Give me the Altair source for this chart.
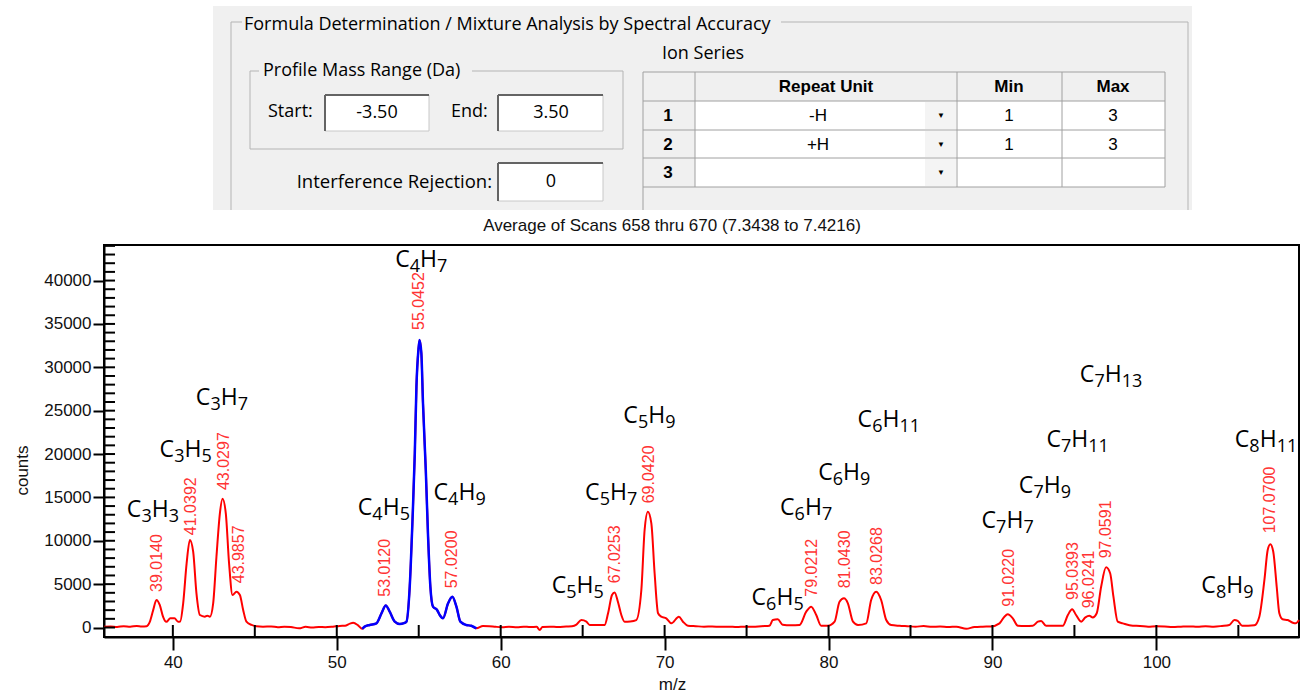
import altair as alt
import pandas as pd

# ---------------- layout of the figure (pixels) ----------------
W, H = 1195, 392          # plot area
PL, PT, PR, PB = 104, 245, 2, 55

# ---------------- spectrum (m/z, counts) ----------------
mz = [35.8, 36.2, 36.6, 37.0, 37.4, 37.8, 38.1, 38.4, 38.6, 38.8, 39.0, 39.2, 39.4, 39.6, 39.85,
      40.1, 40.32, 40.45, 40.63, 40.84, 41.04, 41.24, 41.44, 41.65, 41.95, 42.1, 42.26, 42.46,
      42.66, 42.87, 43.03, 43.23, 43.43, 43.64, 43.88, 44.09, 44.29, 44.49, 44.8, 45.1, 45.5,
      46.0, 46.4, 46.8, 47.2, 47.7, 48.1, 48.5, 48.9, 49.3, 49.77, 50.18, 50.5, 50.8, 51.0, 51.3,
      51.55, 51.7, 52.01, 52.42, 52.73, 52.99, 53.23, 53.54, 53.84, 54.1, 54.25, 54.45, 54.62,
      54.76, 54.86, 54.98, 55.05, 55.16, 55.26, 55.43, 55.57, 55.71, 55.87, 56.12, 56.28, 56.48,
      56.79, 57.05, 57.3, 57.54, 57.9, 58.2, 58.52, 58.92, 59.3, 59.7, 60.1, 60.5, 61.0, 61.4,
      61.8, 62.2, 62.38, 62.55, 63.0, 63.5, 64.0, 64.35, 64.62, 64.92, 65.23, 65.43, 66.0, 66.34,
      66.55, 66.79, 66.95, 67.15, 67.36, 67.56, 67.9, 68.27, 68.58, 68.78, 68.98, 69.19, 69.39,
      69.6, 69.8, 70.1, 70.41, 70.87, 71.12, 71.42, 71.9, 72.4, 72.9, 73.4, 73.9, 74.4, 74.9,
      75.4, 75.9, 76.4, 76.6, 76.9, 77.2, 77.7, 78.23, 78.64, 78.94, 79.25, 79.55, 79.96, 80.37,
      80.67, 80.94, 81.18, 81.49, 81.8, 82.3, 82.6, 82.91, 83.21, 83.52, 83.82, 84.33, 84.8,
      85.3, 85.8, 86.3, 86.8, 87.3, 87.8, 88.4, 88.9, 89.4, 89.9, 90.43, 90.73, 90.93, 91.24,
      91.55, 92.0, 92.46, 92.77, 92.97, 93.27, 93.8, 94.29, 94.6, 94.86, 95.1, 95.41, 95.67,
      95.91, 96.12, 96.36, 96.63, 96.93, 97.18, 97.38, 97.64, 97.95, 98.56, 99.0, 99.5, 100.0,
      100.5, 101.0, 101.5, 102.0, 102.5, 103.0, 103.5, 104.0, 104.45, 104.76, 104.96, 105.23,
      105.6, 105.98, 106.28, 106.59, 106.79, 106.95, 107.13, 107.34, 107.5, 107.7, 108.01,
      108.32, 108.5, 108.7]
counts = [80, 120, 60, 150, 90, 180, 120, 150, 670, 2000, 3170, 2600, 1250, 650, 1060,
          1060, 670, 700, 2790, 7400, 10100, 8740, 3940, 1440, 1250, 1350, 1250, 2790,
          8160, 13170, 14850, 13170, 7400, 3750, 4130, 3750, 2020, 670, 300, 150, 100,
          120, 40, 100, 60, -100, 80, 0, 60, 40, 100, 180, 200, 450, 550, 250,
          -150, 100, 290, 480, 1640, 2550, 1820, 670, 400, 500, 670, 4700, 12400,
          20080, 27770, 32000, 33150, 31620, 25850, 18160, 10470, 4700, 2400, 2020, 1440, 1060,
          2790, 3550, 2400, 670, 290, 200, -100, 170, 150, 80, 40, 80, 40, 100,
          50, 80, -300, 60, 100, 60, 120, 150, 330, 860, 670, 290, 280, 290,
          1640, 3750, 4050, 2970, 1440, 670, 700, 860, 4320, 11240, 13350, 12010, 6250,
          1640, 1250, 1060, 480, 1250, 670, 200, 150, 100, 120, 80, 100, 60, 100,
          80, 150, 200, 860, 950, 330, 250, 290, 1830, 2400, 1440, 200, 200, 670,
          2970, 3360, 2790, 670, 290, 480, 3170, 4130, 3170, 860, 290, 200, 150,
          100, 160, 80, 120, 60, 100, -150, 60, 100, 120, 480, 1250, 1520, 1060,
          200, 180, 200, 670, 760, 200, 200, 200, 1440, 2100, 1440, 670, 1160,
          1350, 1160, 1640, 4700, 6940, 6250, 3550, 670, 480, 200, 180, 100, 150,
          120, 60, 100, 130, 80, 150, 100, 180, 290, 860, 760, 200,
          200, 250, 1250, 5480, 8940, 9600, 8740, 4700, 1640, 950, 860,
          550, 480, 860]
blue_from, blue_to = 51.55, 58.55

# red centroid labels
peak_labels = ["39.0140", "41.0392", "43.0297", "43.9857", "53.0120", "55.0452", "57.0200",
               "67.0253", "69.0420", "79.0212", "81.0430", "83.0268", "91.0220", "95.0393",
               "96.0241", "97.0591", "107.0700"]
peak_label_mz = [39.04, 41.09, 43.13, 44.06, 52.97, 55.02, 57.05, 66.99, 69.04, 79.00,
                 80.98, 82.97, 91.00, 94.94, 95.87, 96.93, 106.95]
peak_label_y = [4100, 10650, 15850, 5100, 3550, 34300, 4520, 5100, 14320, 3550, 4520,
                4900, 2400, 3170, 2210, 7980, 10860]

# formula annotations C_nH_m (left edge m/z, baseline counts)
formula_c = [3, 3, 3, 4, 4, 4, 5, 5, 5, 6, 6, 6, 6, 7, 7, 7, 7, 8, 8]
formula_h = [3, 5, 7, 5, 7, 9, 5, 7, 9, 5, 7, 9, 11, 7, 9, 11, 13, 9, 11]
formula_mz = [37.19, 39.19, 41.40, 51.28, 53.56, 55.90, 63.11, 65.15, 67.48, 75.30, 77.04,
              79.37, 81.77, 89.33, 91.61, 93.29, 95.33, 102.74, 104.78]
formula_y = [12740, 19690, 25650, 12970, 41600, 14700, 3940, 14700, 23580, 2590, 12970,
             16950, 23150, 11470, 15510, 20850, 28340, 3940, 20850]

x_labels = [40, 50, 60, 70, 80, 90, 100]
x_inner = [40, 45, 50, 55, 60, 65, 70, 75, 80, 85, 90, 95, 100, 105]
y_labels = [0, 5000, 10000, 15000, 20000, 25000, 30000, 35000, 40000]
y_inner = [v * 1000 for v in range(0, 45)]

plot_title = "Average of Scans 658 thru 670 (7.3438 to 7.4216)"

# ---------------- dialog panel (screen pixels) ----------------
dlg_rects = [  # x0, y0, x1, y1, fill, stroke, width
    (213, 6, 1192, 210, "#f0f0f0", "#f0f0f0", 0),
    (325, 95, 429, 131, "#ffffff", "#c8c8c8", 1),
    (498, 95, 603, 131, "#ffffff", "#c8c8c8", 1),
    (498, 163, 603, 201, "#ffffff", "#c8c8c8", 1),
    (643, 72, 1165, 101, "#f0f0f0", "#f0f0f0", 0),
    (643, 101, 695, 187, "#f0f0f0", "#f0f0f0", 0),
    (695, 101, 1165, 187, "#ffffff", "#ffffff", 0),
    (925, 102, 956, 129, "#f4f4f4", "#f4f4f4", 0),
    (925, 131, 956, 157, "#f4f4f4", "#f4f4f4", 0),
    (925, 159, 956, 186, "#f4f4f4", "#f4f4f4", 0),
]
dlg_lines = [  # x0, y0, x1, y1, colour, width
    (231, 22, 242, 22, "#b4b4b4", 1), (781, 22, 1188, 22, "#b4b4b4", 1),
    (231, 22, 231, 210, "#b4b4b4", 1), (1188, 22, 1188, 210, "#b4b4b4", 1),
    (250, 71, 259, 71, "#b4b4b4", 1), (472, 71, 623, 71, "#b4b4b4", 1),
    (250, 71, 250, 149, "#b4b4b4", 1), (623, 71, 623, 149, "#b4b4b4", 1),
    (250, 149, 623, 149, "#b4b4b4", 1),
    (325, 95, 429, 95, "#646464", 2), (325, 95, 325, 131, "#646464", 2),
    (498, 95, 603, 95, "#646464", 2), (498, 95, 498, 131, "#646464", 2),
    (498, 163, 603, 163, "#646464", 2), (498, 163, 498, 201, "#646464", 2),
    (643, 72, 1165, 72, "#a0a0a0", 1), (643, 101, 1165, 101, "#a0a0a0", 1),
    (643, 130, 1165, 130, "#a0a0a0", 1), (643, 158, 1165, 158, "#a0a0a0", 1),
    (643, 187, 1165, 187, "#a0a0a0", 1),
    (643, 72, 643, 210, "#a0a0a0", 1), (695, 72, 695, 187, "#a0a0a0", 1),
    (957, 72, 957, 187, "#a0a0a0", 1), (1062, 72, 1062, 187, "#a0a0a0", 1),
    (1165, 72, 1165, 187, "#a0a0a0", 1),
]
dlg_text_left = [("Formula Determination / Mixture Analysis by Spectral Accuracy", 244, 25),
                 ("Profile Mass Range (Da)", 263, 71), ("Start:", 268, 112),
                 ("End:", 451, 112), ("Ion Series", 662, 54)]
dlg_text_right = [("Interference Rejection:", 492, 182)]
dlg_text_center = [("-3.50", 377, 113), ("3.50", 551, 113), ("0", 551, 182)]
tbl_bold = [("Repeat Unit", 826, 87), ("Min", 1009, 87), ("Max", 1113, 87),
            ("1", 668, 116), ("2", 668, 145), ("3", 668, 173)]
tbl_regular = [("-H", 818, 116), ("+H", 818, 145), ("1", 1009, 116), ("1", 1009, 145),
               ("3", 1113, 116), ("3", 1113, 145)]
tbl_arrows = [("\u25bc", 941, 116), ("\u25bc", 941, 145), ("\u25bc", 941, 173)]

# ---------------- build ----------------
XS = alt.Scale(domain=[35.8, 108.7], nice=False, zero=False)
YS = alt.Scale(domain=[-1095, 44100], nice=False, zero=False)
LAB = "Liberation Sans"
UI = "Open Sans"

x_axis = alt.Axis(values=x_labels, format="d", grid=False, domainColor="black", domainWidth=2,
                  tickColor="black", tickWidth=2, tickSize=13, labelFont=LAB, labelFontSize=17,
                  labelColor="#111", labelPadding=4, labelFlush=False, title="m/z",
                  titleFont=LAB, titleFontSize=17, titleFontWeight="normal", titleColor="#111",
                  titleX=568, titleY=52, titleAlign="center", titleBaseline="alphabetic")
y_axis = alt.Axis(values=y_labels, format="d", grid=False, domainColor="black", domainWidth=2,
                  tickColor="black", tickWidth=2, tickSize=11, labelFont=LAB, labelFontSize=17,
                  labelColor="#111", labelPadding=2, labelFlush=False, title="counts",
                  titleFont=LAB, titleFontSize=17, titleFontWeight="normal", titleColor="#111",
                  titleX=-82, titleY=225, titleAngle=270, titleAlign="center",
                  titleBaseline="middle")

spec = pd.DataFrame({"mz": mz, "counts": counts})
red = alt.Chart(spec).mark_line(color="#ff0000", strokeWidth=2, interpolate="monotone").encode(
    x=alt.X("mz:Q", scale=XS, axis=x_axis), y=alt.Y("counts:Q", scale=YS, axis=y_axis))
blue = alt.Chart(spec).transform_filter(
    (alt.datum.mz >= blue_from) & (alt.datum.mz <= blue_to)
).mark_line(color="#0000ff", strokeWidth=2.5, interpolate="monotone").encode(
    x=alt.X("mz:Q", scale=XS, axis=None), y=alt.Y("counts:Q", scale=YS, axis=None))

xt = alt.Chart(pd.DataFrame({"mz": x_inner})).mark_rule(color="black", strokeWidth=2).encode(
    x=alt.X("mz:Q", scale=XS, axis=None), y=alt.value(H), y2=alt.value(H - 12))
yt = alt.Chart(pd.DataFrame({"counts": y_inner})).mark_rule(color="black", strokeWidth=2).encode(
    y=alt.Y("counts:Q", scale=YS, axis=None), x=alt.value(0), x2=alt.value(11))

pl = pd.DataFrame({"label": peak_labels, "mz": peak_label_mz, "y": peak_label_y})
peak_text = alt.Chart(pl).mark_text(angle=270, align="left", baseline="middle", font=LAB,
                                     fontSize=16, color="#ff3333").encode(
    x=alt.X("mz:Q", scale=XS, axis=None), y=alt.Y("y:Q", scale=YS, axis=None), text="label:N")

fdf = pd.DataFrame({"mz": formula_mz, "y": formula_y,
                    "c": [str(v) for v in formula_c], "h": [str(v) for v in formula_h]})
fbase = alt.Chart(fdf).encode(x=alt.X("mz:Q", scale=XS, axis=None),
                              y=alt.Y("y:Q", scale=YS, axis=None))
fC = fbase.mark_text(text="C", align="left", baseline="alphabetic", font=UI, fontSize=23,
                     color="black")
fs1 = fbase.mark_text(align="left", baseline="alphabetic", font=UI, fontSize=18, color="black",
                      dx=14.6, dy=5).encode(text="c:N")
fH = fbase.mark_text(text="H", align="left", baseline="alphabetic", font=UI, fontSize=23,
                     color="black", dx=24.9)
fs2 = fbase.mark_text(align="left", baseline="alphabetic", font=UI, fontSize=18, color="black",
                      dx=41.9, dy=5).encode(text="h:N")

title = alt.Chart(pd.DataFrame({"t": [plot_title]})).mark_text(
    font=LAB, fontSize=17, color="#111", align="center", baseline="middle").encode(
    text="t:N", x=alt.value(672 - PL), y=alt.value(226 - PT))

# dialog layers (identity scales, pixel coordinates relative to the plot origin)
rdf = pd.DataFrame(dlg_rects, columns=["x0", "y0", "x1", "y1", "fill", "stroke", "sw"])
for c in ["x0", "x1"]:
    rdf[c] = rdf[c] - PL
for c in ["y0", "y1"]:
    rdf[c] = rdf[c] - PT
rects = alt.Chart(rdf).mark_rect().encode(
    x=alt.X("x0:Q", scale=None, axis=None), x2="x1:Q",
    y=alt.Y("y0:Q", scale=None, axis=None), y2="y1:Q",
    fill=alt.Fill("fill:N", scale=None), stroke=alt.Stroke("stroke:N", scale=None),
    strokeWidth=alt.StrokeWidth("sw:Q", scale=None))

ldf = pd.DataFrame(dlg_lines, columns=["x0", "y0", "x1", "y1", "col", "sw"])
for c in ["x0", "x1"]:
    ldf[c] = ldf[c] - PL
for c in ["y0", "y1"]:
    ldf[c] = ldf[c] - PT
lines = alt.Chart(ldf).mark_rule().encode(
    x=alt.X("x0:Q", scale=None, axis=None), x2="x1:Q",
    y=alt.Y("y0:Q", scale=None, axis=None), y2="y1:Q",
    color=alt.Color("col:N", scale=None), strokeWidth=alt.StrokeWidth("sw:Q", scale=None))


def text_layer(items, align, font, size, weight="normal", color="#000000"):
    d = pd.DataFrame(items, columns=["t", "x", "y"])
    d["x"] = d["x"] - PL
    d["y"] = d["y"] - PT
    return alt.Chart(d).mark_text(align=align, baseline="middle", font=font, fontSize=size,
                                  fontWeight=weight, color=color).encode(
        x=alt.X("x:Q", scale=None, axis=None), y=alt.Y("y:Q", scale=None, axis=None),
        text="t:N")


dlg = [rects, lines,
       text_layer(dlg_text_left, "left", UI, 18),
       text_layer(dlg_text_right, "right", UI, 18.5),
       text_layer(dlg_text_center, "center", UI, 18),
       text_layer(tbl_bold, "center", LAB, 17, "bold"),
       text_layer(tbl_regular, "center", LAB, 17),
       text_layer(tbl_arrows, "center", LAB, 8)]

chart = alt.layer(
    *dlg, title, red, blue, xt, yt, peak_text, fC, fs1, fH, fs2
).resolve_scale(x="independent", y="independent").properties(
    width=W, height=H,
    padding={"left": PL, "top": PT, "right": PR, "bottom": PB},
    autosize=alt.AutoSizeParams(type="none"),
    background="white",
).configure_view(stroke="black", strokeWidth=2)

chart.save("out.html", embed_options={"renderer": "svg", "actions": False})
